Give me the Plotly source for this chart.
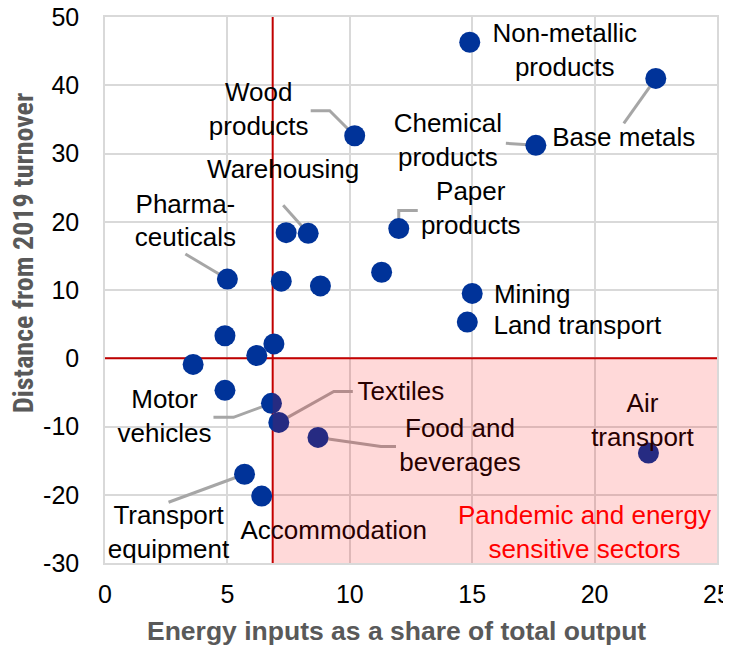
import plotly.graph_objects as go

# energy inputs as share of output (x) vs distance from 2019 turnover (y)
energy_share = [14.9, 22.5, 10.2, 17.6, 8.3, 7.4, 12.0, 5.0, 7.2, 8.8, 11.3, 15.0, 14.8,
                4.9, 6.9, 6.2, 3.6, 4.9, 6.8, 7.1, 8.7, 22.2, 5.7, 6.4]
turnover_gap = [46.3, 41.0, 32.6, 31.2, 18.3, 18.4, 19.0, 11.6, 11.3, 10.6, 12.6, 9.5, 5.3,
                3.3, 2.1, 0.4, -0.9, -4.7, -6.6, -9.4, -11.6, -13.9, -17.0, -20.2]
sector_names = ["Non-metallic<br>products", "Base metals", "Wood<br>products",
                "Chemical<br>products", "Warehousing", "", "Paper<br>products",
                "Pharma-<br>ceuticals", "", "", "", "Mining", "Land transport",
                "", "", "", "", "", "Motor<br>vehicles", "Textiles", "Food and<br>beverages",
                "Air<br>transport", "Transport<br>equipment", "Accommodation"]

energy_threshold = 6.85
x_ticks = [0, 5, 10, 15, 20, 25]
y_ticks = [-30, -20, -10, 0, 10, 20, 30, 40, 50]
y_tick_text = ["-30", "-20", "-10", "0", "10", "20", "30", "40", "50"]

# label placement, pixel offsets from the point (right, down)
label_offset = {
    "Non-metallic<br>products": (95, 10),
    "Base metals": (-32, 61),
    "Wood<br>products": (-96, -24),
    "Chemical<br>products": (-88, -3),
    "Warehousing": (-25, -62),
    "Paper<br>products": (72, -18),
    "Pharma-<br>ceuticals": (-42, -56),
    "Mining": (60, 3),
    "Land transport": (110, 5),
    "Motor<br>vehicles": (-107, 15),
    "Textiles": (122, -29),
    "Food and<br>beverages": (142, 10),
    "Air<br>transport": (-6, -31),
    "Transport<br>equipment": (-76, 60),
    "Accommodation": (72, 36),
}
leader_path = {
    "Base metals": [(0, 0), (-32, 45)],
    "Wood<br>products": [(0, 0), (-25, -25), (-44, -25)],
    "Chemical<br>products": [(0, 0), (-30, -2)],
    "Warehousing": [(0, 0), (-25, -28)],
    "Paper<br>products": [(0, 0), (0, -18), (19, -18)],
    "Pharma-<br>ceuticals": [(0, 0), (-42, -25)],
    "Motor<br>vehicles": [(0, 0), (-38, 14), (-58, 14)],
    "Textiles": [(0, 0), (55, -31), (74, -31)],
    "Food and<br>beverages": [(0, 0), (63, 9), (78, 9)],
    "Air<br>transport": [(0, 0), (3, -8)],
    "Transport<br>equipment": [(0, 0), (-76, 28)],
}

# page has an 8px body margin, so the figure is a bit smaller than the window
PAGE = 8
W, H = 731 - PAGE, 652 - PAGE
L, R, T, B = 105 - PAGE, 14, 17 - PAGE, 89
PW, PH = W - L - R, H - T - B
kx = PW / (x_ticks[-1] - x_ticks[0])
ky = PH / (y_ticks[-1] - y_ticks[0])


def paper_x(px):
    return (px - PAGE - L) / PW


def paper_y(py):
    return 1 - (py - PAGE - T) / PH


lab_x, lab_y, lab_t = [], [], []
lead_x, lead_y = [], []
for x, y, name in zip(energy_share, turnover_gap, sector_names):
    if not name:
        continue
    dx, dy = label_offset[name]
    lab_x.append(x + dx / kx)
    lab_y.append(y - dy / ky)
    lab_t.append(name)
    if name in leader_path:
        for px, py in leader_path[name]:
            lead_x.append(x + px / kx)
            lead_y.append(y - py / ky)
        lead_x.append(None)
        lead_y.append(None)

SANS = "Liberation Sans, Arial, sans-serif"
label_font = dict(family=SANS, size=26, color="black")
tick_font = dict(family=SANS, size=25, color="black")

fig = go.Figure()
fig.add_trace(go.Scatter(x=lead_x, y=lead_y, mode="lines",
                         line=dict(color="#A6A6A6", width=3), hoverinfo="skip"))
fig.add_trace(go.Scatter(x=energy_share, y=turnover_gap, mode="markers",
                         marker=dict(color="#003399", size=21, line=dict(width=0))))
fig.add_trace(go.Scatter(x=lab_x, y=lab_y, text=lab_t, mode="text",
                         textposition="middle center", textfont=label_font,
                         cliponaxis=False, hoverinfo="skip"))

# threshold lines
fig.add_shape(type="line", x0=energy_threshold, x1=energy_threshold, y0=-30, y1=50,
              line=dict(color="#C00000", width=2), layer="between")
fig.add_shape(type="line", x0=0, x1=25, y0=0, y1=0,
              line=dict(color="#C00000", width=2), layer="between")
# shaded zone drawn on top, like the original
fig.add_shape(type="rect", x0=energy_threshold, x1=25, y0=-30, y1=0,
              fillcolor="rgba(255,0,0,0.15)", line=dict(width=0), layer="above")

fig.add_annotation(x=19.6, y=-25.5, text="Pandemic and energy<br>sensitive sectors",
                   showarrow=False, font=dict(family=SANS, size=26, color="#FF0000"))

# axis titles as annotations (they are not centred on the plot in the original)
fig.add_annotation(xref="paper", yref="paper", x=paper_x(396), y=paper_y(631),
                   text="Energy inputs as a share of total output", showarrow=False,
                   xanchor="center", yanchor="middle",
                   font=dict(family=SANS, size=26.5, color="#595959", weight="bold"))
fig.add_annotation(xref="paper", yref="paper", x=paper_x(23), y=paper_y(253),
                   text="Distance from 2019 turnover", showarrow=False, textangle=-90,
                   xanchor="center", yanchor="middle",
                   font=dict(family="Roboto Condensed, Liberation Sans Narrow, Arial Narrow, sans-serif",
                             size=28, color="#595959", weight="bold"))

fig.update_xaxes(range=[0, 25], tickvals=x_ticks, showgrid=True, gridcolor="#D9D9D9",
                 gridwidth=1.5, showline=True, linecolor="#D9D9D9", linewidth=1.5,
                 mirror=True, zeroline=False, tickfont=tick_font, ticklabelstandoff=8,
                 ticklabeloverflow="allow", automargin=False)
fig.update_yaxes(range=[-30, 50], tickvals=y_ticks, ticktext=y_tick_text, showgrid=True,
                 gridcolor="#D9D9D9", gridwidth=1.5, showline=True, linecolor="#D9D9D9",
                 linewidth=1.5, mirror=True, zeroline=False, tickfont=tick_font,
                 ticklabelstandoff=19, ticklabeloverflow="allow", automargin=False)

fig.update_layout(width=W, height=H, margin=dict(l=L, r=R, t=T, b=B),
                  plot_bgcolor="white", paper_bgcolor="white", showlegend=False)

fig.write_html("out.html")
